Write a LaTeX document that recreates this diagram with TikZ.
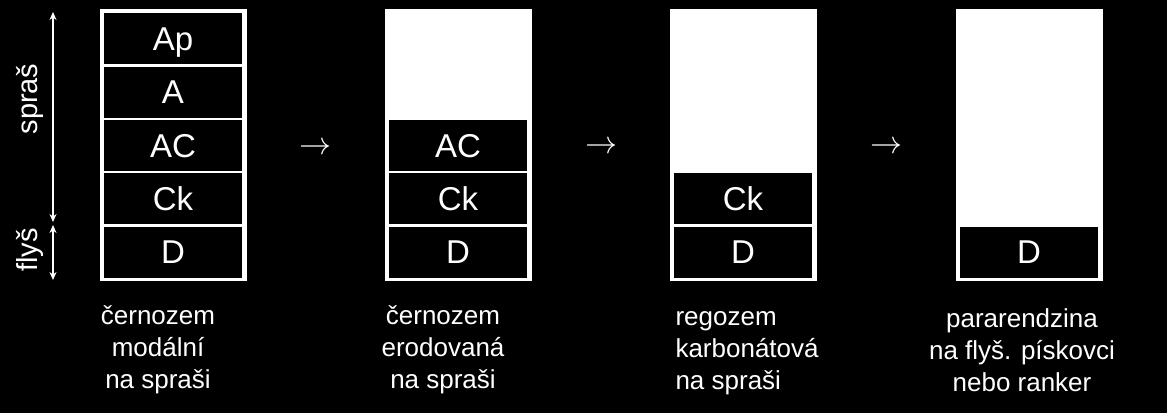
\documentclass[tikz,border=0pt]{standalone}
\usepackage{fontspec}
\setmainfont{Liberation Sans}
\usetikzlibrary{arrows.meta}
\begin{document}
\begin{tikzpicture}[x=1pt,y=-1pt,
    column/.style={fill=white, draw=white, minimum width=146pt, minimum height=271pt, inner sep=0pt},
    layer/.style={fill=black, draw=white, line width=0.6pt, minimum width=139.4pt, minimum height=52pt,
      inner sep=0pt, text height=23.6pt, text depth=0pt, text=white, font=\fontsize{33}{40}\selectfont},
    caption/.style={text=white, font=\fontsize{26}{32}\selectfont},
    sidelabel/.style={text=white, rotate=90, font=\fontsize{29}{35}\selectfont},
    stepto/.style={text=white, inner sep=0pt},
    thickness/.style={draw=white, line width=1.4pt, {Stealth[length=8pt,width=7pt]}-{Stealth[length=8pt,width=7pt]}}]
  % Background
  \fill[black] (0,0) rectangle (1167,413);
  \useasboundingbox (0,0) rectangle (1167,413);

  % Profile frames
  \foreach \x [count=\i] in {173,458,743,1029}
    \node[column] (col\i) at (\x,144.5) {};

  % Column 1: full profile
  \node[layer] (ap1) at (173,38.5) {Ap};
  \node[layer] (a1) at (173,91.9) {A};
  \node[layer] (ac1) at (173,145.3) {AC};
  \node[layer] (ck1) at (173,198.7) {Ck};
  \node[layer] (d1) at (173,252.1) {D};

  % Column 2: eroded
  \node[layer] (ac2) at (458,145.3) {AC};
  \node[layer] (ck2) at (458,198.7) {Ck};
  \node[layer] (d2) at (458,252.1) {D};

  % Column 3
  \node[layer] (ck3) at (743,198.7) {Ck};
  \node[layer] (d3) at (743,252.1) {D};

  % Column 4
  \node[layer] (d4) at (1029,252.1) {D};

  % Steps between profiles
  \node[stepto] (to12) at (315,149) {\scalebox{3.2}{$\rightarrow$}};
  \node[stepto] (to23) at (601,148) {\scalebox{3.2}{$\rightarrow$}};
  \node[stepto] (to34) at (886,148) {\scalebox{3.2}{$\rightarrow$}};

  % Substrate on the left
  \coordinate (sprtop) at (53,12);
  \coordinate (sprbot) at (53,222);
  \coordinate (flytop) at (53,225);
  \coordinate (flybot) at (53,280);
  \draw[thickness] (sprtop) -- (sprbot);
  \draw[thickness] (flytop) -- (flybot);
  \node[sidelabel] (spras) at (30,99) {spraš};
  \node[sidelabel] (flys) at (30,250) {flyš};

  % Captions
  \node[caption, align=center] (cap1) at (158,350) {černozem\\modální\\na spraši};
  \node[caption, align=center] (cap2) at (443,350) {černozem\\erodovaná\\na spraši};
  \node[caption, align=left, anchor=west] (cap3) at (672,353) {regozem\\karbonátová\\na spraši};
  \node[caption, align=center] (cap4) at (1022,350) {pararendzina\\na flyš. pískovci\\nebo ranker};
\end{tikzpicture}
\end{document}
